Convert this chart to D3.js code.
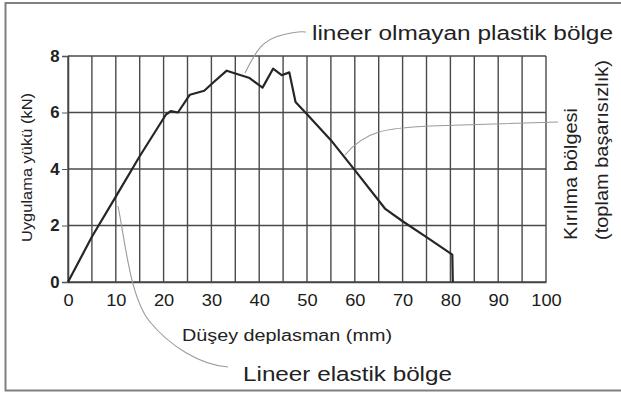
<!DOCTYPE html>
<html><head><meta charset="utf-8">
<script src="https://cdn.jsdelivr.net/npm/d3@7"></script>
<style>html,body{margin:0;padding:0;background:#fff;}svg{display:block;}</style>
</head><body>
<script>
// Data
const displacement = [0, 5, 10, 15, 20.5, 21.5, 23, 25.5, 28.5, 30.5, 33.2, 38, 40.7, 42.9, 44.7, 46.3, 47.6, 50, 55, 60, 66.3, 70, 75, 80.4, 80.5];
const load =         [0, 1.6, 3.02, 4.45, 5.93, 6.05, 6.0, 6.63, 6.77, 7.08, 7.48, 7.22, 6.88, 7.55, 7.32, 7.42, 6.37, 5.94, 5.02, 3.96, 2.6, 2.15, 1.59, 0.97, 0];
const xTicks = [0, 10, 20, 30, 40, 50, 60, 70, 80, 90, 100];
const xGrid = d3.range(0, 101, 5);
const yTicks = [0, 2, 4, 6, 8];
const xTitle = "Düşey deplasman (mm)";
const yTitle = "Uygulama yükü (kN)";
const labelTop = "lineer olmayan plastik bölge";
const labelBottom = "Lineer elastik bölge";
const labelRight1 = "Kırılma bölgesi";
const labelRight2 = "(toplam başarısızlık)";

const W = 621, H = 396;
const svg = d3.select("body").append("svg").attr("width", W).attr("height", H);
svg.append("rect").attr("width", W).attr("height", H).attr("fill", "#fff");
// frame
svg.append("rect").attr("x", 5.5).attr("y", 3).attr("width", 630).attr("height", 387.5)
  .attr("fill", "none").attr("stroke", "#808080").attr("stroke-width", 2);

const x = d3.scaleLinear().domain([0, 100]).range([68, 546]);
const y = d3.scaleLinear().domain([0, 8]).range([282, 56]);
const font = "'Liberation Sans', Arial, Helvetica, sans-serif";

// grid
svg.append("g").selectAll("line").data(xGrid).join("line")
  .attr("x1", d => x(d)).attr("x2", d => x(d)).attr("y1", y(0)).attr("y2", y(8))
  .attr("stroke", "#4a4a4a").attr("stroke-width", 1.4);
svg.append("g").selectAll("line").data(yTicks).join("line")
  .attr("x1", x(0)).attr("x2", x(100)).attr("y1", d => y(d)).attr("y2", d => y(d))
  .attr("stroke", "#4a4a4a").attr("stroke-width", 1.4);

// axes
const gx = svg.append("g").attr("transform", `translate(0,${y(0)})`)
  .call(d3.axisBottom(x).tickValues(xTicks).tickSize(0).tickPadding(13));
gx.select(".domain").attr("stroke", "#444").attr("stroke-width", 1.5);
gx.selectAll("text").attr("font-family", font).attr("font-size", 16).attr("fill", "#1a1a1a")
  .attr("transform", "scale(1.14,1)");

const gy = svg.append("g").attr("transform", `translate(${x(0)},0)`)
  .call(d3.axisLeft(y).tickValues(yTicks).tickSize(6).tickPadding(2));
gy.select(".domain").attr("stroke", "#444").attr("stroke-width", 1.5);
gy.selectAll(".tick line").attr("stroke", "#555");
gy.selectAll("text").attr("font-family", font).attr("font-size", 16).attr("fill", "#222")
  .attr("font-weight", "bold").attr("transform", "scale(1.05,1)");

// curve
const pts = displacement.map((d, i) => [d, load[i]]);
svg.append("path").datum(pts)
  .attr("d", d3.line().x(d => x(d[0])).y(d => y(d[1])))
  .attr("fill", "none").attr("stroke", "#262626").attr("stroke-width", 2.2).attr("stroke-linejoin", "round");

// leader lines
const lead = "#9a9a9a";
svg.append("path").attr("d", "M245,73 C254,56 260,40 282,35 S300,32 306,32")
  .attr("fill", "none").attr("stroke", lead).attr("stroke-width", 1.1);
svg.append("path").attr("d", "M118,206 C125,240 130,298 150,322 S200,365 228,367")
  .attr("fill", "none").attr("stroke", lead).attr("stroke-width", 1.1);
svg.append("path").attr("d", "M345,155 C365,131 385,128 430,126 L558,122")
  .attr("fill", "none").attr("stroke", lead).attr("stroke-width", 1.1);

function txt(str, px, py, size, len, rot, anchor) {
  const t = svg.append("text").attr("font-family", font).attr("font-size", size)
    .attr("fill", "#222").attr("text-anchor", anchor || "start")
    .attr("textLength", len).attr("lengthAdjust", "spacingAndGlyphs").text(str);
  if (rot) t.attr("transform", `translate(${px},${py}) rotate(${rot})`);
  else t.attr("x", px).attr("y", py);
  return t;
}
txt(labelTop, 312, 40, 20, 301);
txt(labelBottom, 243, 381, 20, 209);
txt(xTitle, 182, 341, 16, 210);
txt(yTitle, 32, 242, 15, 149, -90);
txt(labelRight1, 577, 240, 19, 132, -90);
txt(labelRight2, 608, 240, 19, 180, -90);
</script>
</body></html>
